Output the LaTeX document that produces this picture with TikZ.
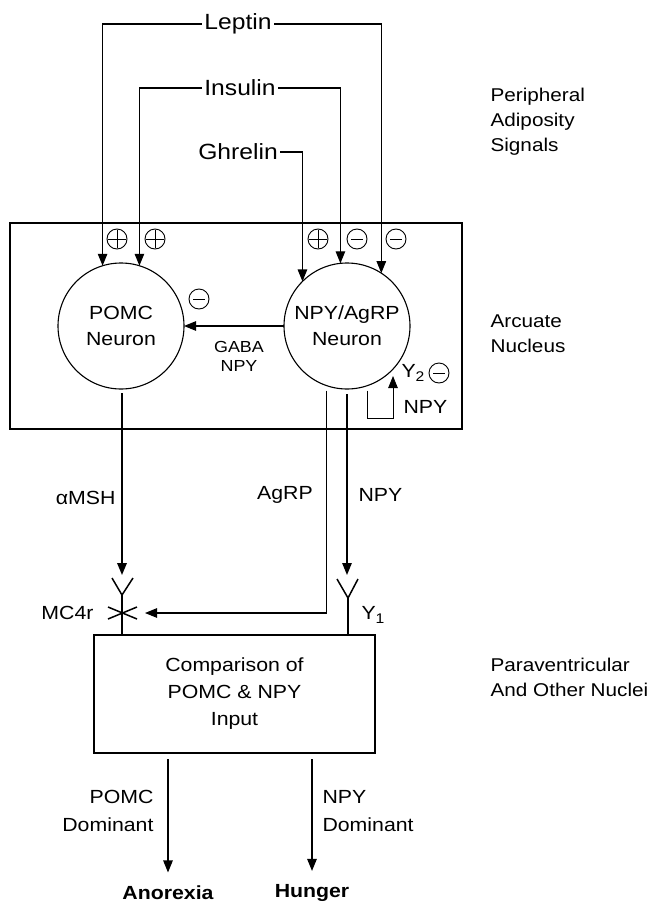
\documentclass[tikz,border=0pt]{standalone}
\usepackage{fontspec}
\setmainfont{Liberation Sans}[FakeStretch=1.12]
\usetikzlibrary{arrows.meta,calc}
\begin{document}
\begin{tikzpicture}[x=1pt,y=-1pt,line width=1.1pt,
  arr/.style={-{Triangle[width=9.5pt,length=12pt]}},
  big/.style={font=\fontsize{22}{28}\selectfont,inner sep=2pt},
  txt/.style={font=\fontsize{19}{26}\selectfont,align=center,inner sep=0pt},
  side/.style={font=\fontsize{18.5}{25}\selectfont,align=left,inner sep=0pt,anchor=west},
  sml/.style={font=\fontsize{16}{19}\selectfont,align=center,inner sep=0pt},
  neuron/.style={circle,draw,minimum size=126pt,inner sep=0pt,outer sep=0pt,font=\fontsize{19}{26}\selectfont,align=center},
  boxnode/.style={draw,inner sep=0pt,outer sep=0pt},
  sgn/.style={circle,draw,minimum size=20pt,inner sep=0pt,line width=0.9pt},
  plus/.style={sgn,path picture={\draw[line width=0.9pt]
     ([xshift=-9pt]path picture bounding box.center) -- ([xshift=9pt]path picture bounding box.center)
     ([yshift=-9pt]path picture bounding box.center) -- ([yshift=9pt]path picture bounding box.center);}},
  minus/.style={sgn,path picture={\draw[line width=0.9pt]
     ([xshift=-6pt]path picture bounding box.center) -- ([xshift=6pt]path picture bounding box.center);}},
  rec/.style={line width=1.5pt}
]
\useasboundingbox (0,0) rectangle (663,902);

% boxes
\node[boxnode,minimum width=452pt,minimum height=206pt] (arc) at (236,326) {};
\node[boxnode,minimum width=281pt,minimum height=118pt,font=\fontsize{19}{27}\selectfont,align=center] (cmp) at (234.5,694) {Comparison of\\POMC \& NPY\\Input};

% neurons
\node[neuron] (pomc) at (121,326) {POMC\\Neuron};
\node[neuron] (npy) at (347,326) {NPY/AgRP\\Neuron};

% top signals
\node[big] (lep) at (238,24) {Leptin};
\node[big] (ins) at (240,88) {Insulin};
\node[big] (ghr) at (238,152) {Ghrelin};

\draw[arr] (lep.west) -| (pomc.107.6);
\draw[arr] (lep.east) -| (npy.57.3);
\draw[arr] (ins.west) -| (pomc.73.4);
\draw[arr] (ins.east) -| (npy.96.4);
\draw[arr] (ghr.east) -| (npy.135.6);

% signs
\node[plus] (s1) at (117,239) {};
\node[plus] (s2) at (155,239) {};
\node[plus] (s3) at (318,239) {};
\node[minus] (s4) at (357,239) {};
\node[minus] (s5) at (396,239) {};
\node[minus] (s6) at (199,299) {};

% GABA / NPY
\draw[arr] (npy.west) -- (pomc.east);
\node[sml] (gaba) at (239,356) {GABA\\NPY};

% Y2 feedback
\coordinate (fbc) at (393,418);
\coordinate (fb) at (393,376);
\draw[line width=0.9pt,arr,shorten <=5pt] (npy.289.5) |- (fbc) -- (fb);
\node[txt,anchor=west] (y2) at (401,373) {Y\raisebox{-0.35ex}{\fontsize{14}{14}\selectfont 2}};
\node[minus] (s7) at (439,373) {};
\node[txt,anchor=west] (fbnpy) at (403,407) {NPY};

% alpha-MSH
\coordinate (mtip) at (122,575);
\draw[arr,line width=1.8pt,shorten <=4pt] (pomc.south -| mtip) -- (mtip);
\node[txt,anchor=east] (amsh) at (116,498) {αMSH};

% MC4r receptor
\coordinate (mc4) at (122,636);
\draw[rec] (112,578) -- (122,595) -- (133,578);
\draw[rec] (122,595) -- (mc4);
\draw[rec] (108,607) -- (137,619) (108,619) -- (137,607);
\node[txt,anchor=east] (mc4lbl) at (94,613) {MC4r};

% AgRP
\coordinate (agtip) at (145,613);
\draw[arr,shorten <=5pt] (npy.251.5) |- (agtip);
\node[txt] (agrp) at (285,495) {AgRP};

% NPY -> Y1
\coordinate (ntip) at (347,575);
\draw[arr,line width=1.3pt,shorten <=5pt] (npy.south) -- (ntip);
\node[txt,anchor=west] (npylbl) at (358,495) {NPY};
\coordinate (y1) at (348,635);
\draw[rec] (337,579) -- (348,598) -- (358,579);
\draw[rec] (348,598) -- (y1);
\node[txt,anchor=west] (y1lbl) at (361,615) {Y\raisebox{-0.35ex}{\fontsize{14}{14}\selectfont 1}};

% outputs
\node[txt,font=\fontsize{19}{26}\selectfont\bfseries] (anor) at (168,893) {Anorexia};
\node[txt,font=\fontsize{19}{26}\selectfont\bfseries] (hung) at (312,893) {Hunger};
\draw[arr,shorten <=6pt,shorten >=13pt] (cmp.south -| anor.north) -- (anor.north);
\draw[arr,line width=1.3pt,shorten <=6pt,shorten >=13pt] (cmp.south -| hung.north) -- (hung.north);
\node[txt,align=right,anchor=east,font=\fontsize{19}{28}\selectfont] (pd) at (154,811) {POMC\\Dominant};
\node[txt,align=left,anchor=west,font=\fontsize{19}{28}\selectfont] (nd) at (322,811) {NPY\\Dominant};

% side labels
\node[side] (per) at (490,122) {Peripheral\\Adiposity\\Signals};
\node[side] (arcl) at (490,334) {Arcuate\\Nucleus};
\node[side] (pvn) at (490,677) {Paraventricular\\And Other Nuclei};
\end{tikzpicture}
\end{document}
